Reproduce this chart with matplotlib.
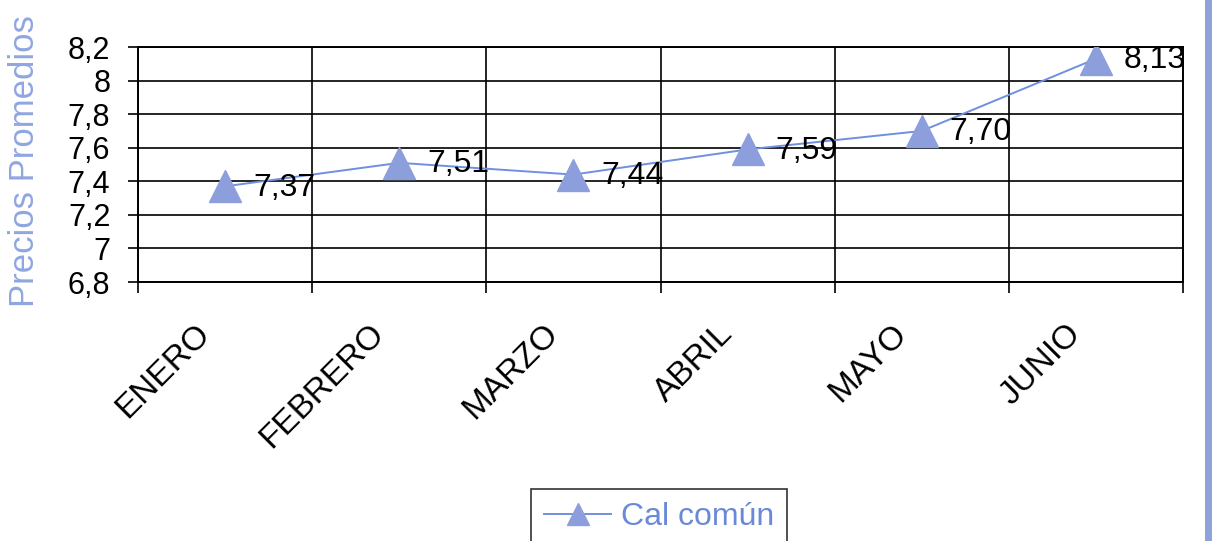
import numpy as np
import matplotlib.pyplot as plt
from matplotlib.patches import Rectangle
from matplotlib.transforms import ScaledTranslation

# datos
meses = ["ENERO", "FEBRERO", "MARZO", "ABRIL", "MAYO", "JUNIO"]
precios = [7.37, 7.51, 7.44, 7.59, 7.70, 8.13]
serie = "Cal común"
y_ticks = [6.8, 7.0, 7.2, 7.4, 7.6, 7.8, 8.0, 8.2]

plt.rcParams["font.family"] = ["Liberation Sans", "DejaVu Sans"]

azul_linea = "#6f8fe0"
azul_marca = "#8c9fdc"
azul_texto = "#8fa6e0"

fig = plt.figure(figsize=(12.12, 5.41), dpi=100)
ax = fig.add_axes([0.1139, 0.4787, 0.8622, 0.4344])

x = np.arange(len(meses))
ax.plot(x, precios, color=azul_linea, lw=1.4, marker="^", ms=23,
        mfc=azul_marca, mec=azul_marca, label=serie, zorder=3)

# etiquetas de valor junto a cada punto
for xi, v in zip(x, precios):
    ax.annotate(f"{v:.2f}".replace(".", ","), (xi, v), xytext=(20, -1),
                textcoords="offset points", ha="left", va="center",
                fontsize=23, color="black", zorder=4)

ax.set_xlim(-0.5, len(meses) - 0.5)
ax.set_ylim(6.8, 8.2)
ax.set_yticks(y_ticks)
ax.set_yticklabels([("%g" % t).replace(".", ",") for t in y_ticks], fontsize=22)

ax.set_xticks(x)
ax.set_xticks(np.arange(len(meses) + 1) - 0.5, minor=True)
ax.tick_params(axis="x", which="major", length=0, pad=26)
ax.tick_params(axis="x", which="minor", length=8, width=1.2, direction="out")
ax.tick_params(axis="y", length=7, width=1.2, pad=13)
ax.set_xticklabels(meses, rotation=45, ha="right", va="top",
                   rotation_mode="anchor", fontsize=24)
# correr los nombres de mes hacia la izquierda
desplaza = ScaledTranslation(-22 / 72, 0, fig.dpi_scale_trans)
for lab in ax.get_xticklabels():
    lab.set_transform(lab.get_transform() + desplaza)

ax.grid(axis="y", which="major", color="black", lw=1.2)
ax.grid(axis="x", which="minor", color="black", lw=1.2)
for s in ax.spines.values():
    s.set_color("black")
    s.set_linewidth(1.4)

fig.text(0.02, 0.702, "Precios Promedios", rotation=90, ha="center",
         va="center", fontsize=25, color=azul_texto)

leg = ax.legend(loc="upper center", bbox_to_anchor=(0.5437, 0.0961),
                bbox_transform=fig.transFigure, frameon=True, fontsize=23,
                fancybox=False, edgecolor="black", handlelength=2.1,
                handletextpad=0.3, markerscale=0.7, borderpad=0.4,
                borderaxespad=0)
leg.get_frame().set_linewidth(1.2)
for t in leg.get_texts():
    t.set_color("#6a89d8")

# marco derecho del gráfico
fig.add_artist(Rectangle((0.9942, 0.0), 0.006, 1.0, transform=fig.transFigure,
                         color="#8fa3d8", lw=0))

fig.savefig("out.png", dpi=100)
